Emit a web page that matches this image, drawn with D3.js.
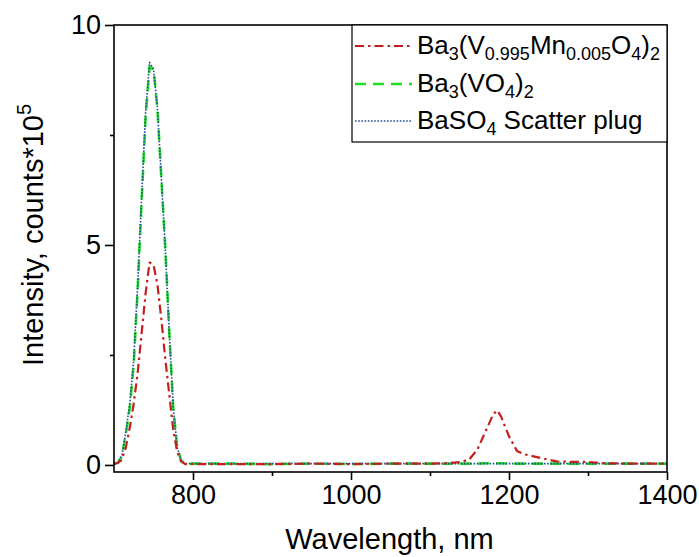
<!DOCTYPE html>
<html>
<head>
<meta charset="utf-8">
<script src="https://cdn.jsdelivr.net/npm/d3@7"></script>
<style>
  html, body { margin: 0; padding: 0; background: #fff; }
  svg { display: block; font-family: "Liberation Sans", Arial, sans-serif; }
</style>
</head>
<body>
<svg id="chart" width="699" height="557"></svg>
<script>
// Emission spectra: wavelength (nm) vs intensity (counts x 1e5)
const wavelength = [700, 705, 710, 715, 720, 725, 730, 735, 740, 745, 750, 755, 760, 765, 770, 775, 780, 785, 790,
  800, 850, 900, 950, 1000, 1050, 1100, 1120, 1140, 1150, 1160, 1170, 1180, 1185, 1190, 1200, 1210, 1220,
  1240, 1260, 1280, 1300, 1320, 1350, 1400];

const mnDoped = [0.02, 0.05, 0.12, 0.4, 0.85, 1.4, 2.1, 3.0, 3.9, 4.6, 4.55, 4.1, 3.3, 2.4, 1.6, 0.8, 0.3, 0.08, 0.02,
  0.02, 0.02, 0.02, 0.03, 0.02, 0.03, 0.03, 0.04, 0.07, 0.13, 0.35, 0.75, 1.15, 1.24, 1.1, 0.65, 0.32, 0.24,
  0.16, 0.08, 0.07, 0.07, 0.04, 0.03, 0.03];

const undoped = [0.02, 0.05, 0.2, 0.7, 1.3, 2.3, 4.0, 6.0, 7.9, 9.05, 9.0, 8.1, 6.5, 4.9, 3.0, 1.3, 0.4, 0.1, 0.03,
  0.03, 0.03, 0.02, 0.03, 0.02, 0.03, 0.03, 0.03, 0.03, 0.03, 0.03, 0.04, 0.04, 0.04, 0.04, 0.03, 0.03, 0.03,
  0.03, 0.03, 0.03, 0.03, 0.03, 0.03, 0.03];

const scatterPlug = [0.02, 0.05, 0.22, 0.75, 1.4, 2.4, 4.1, 6.1, 8.0, 9.15, 9.0, 8.1, 6.5, 4.9, 3.0, 1.3, 0.4, 0.1, 0.03,
  0.03, 0.03, 0.03, 0.03, 0.03, 0.03, 0.03, 0.03, 0.03, 0.03, 0.03, 0.03, 0.03, 0.03, 0.03, 0.03, 0.03, 0.03,
  0.03, 0.03, 0.03, 0.03, 0.03, 0.03, 0.03];

const xMajorTicks = [800, 1000, 1200, 1400];
const xMinorTicks = [900, 1100, 1300];
const yMajorTicks = [0, 5, 10];
const yMinorTicks = [2.5, 7.5];

const seriesNames = ["Ba3(V0.995Mn0.005O4)2", "Ba3(VO4)2", "BaSO4 Scatter plug"];

const svg = d3.select("#chart");
const margin = { top: 25, right: 32, bottom: 85, left: 114 };
const W = 699, H = 557;

const x = d3.scaleLinear().domain([700, 1400]).range([margin.left, W - margin.right]);
const y = d3.scaleLinear().domain([-0.16, 10]).range([H - margin.bottom, margin.top]);

const series = [
  { name: seriesNames[1], values: undoped, color: "#22dd22", dash: "11,7", width: 2.6 },
  { name: seriesNames[2], values: scatterPlug, color: "#1f4e9a", dash: "1.6,1.6", width: 1.6 },
  { name: seriesNames[0], values: mnDoped, color: "#c41f1f", dash: "9,4,2.5,4", width: 2.2 }
];

const line = d3.line()
  .x((d, i) => x(wavelength[i]))
  .y(d => y(d));

series.forEach(s => {
  svg.append("path")
    .datum(s.values)
    .attr("d", line)
    .attr("fill", "none")
    .attr("stroke", s.color)
    .attr("stroke-width", s.width)
    .attr("stroke-dasharray", s.dash)
    .attr("stroke-linejoin", "round");
});

// Frame
const x0 = x.range()[0], x1 = x.range()[1];
const yTop = y.range()[1], yBot = y.range()[0];
svg.append("rect")
  .attr("x", x0).attr("y", yTop)
  .attr("width", x1 - x0).attr("height", yBot - yTop)
  .attr("fill", "none").attr("stroke", "#000").attr("stroke-width", 1.6);

// Axes
const axisFont = 27;
const gx = svg.append("g").attr("transform", `translate(0,${yBot})`)
  .call(d3.axisBottom(x).tickValues(xMajorTicks).tickSize(8).tickPadding(5).tickFormat(d3.format("d")));
const gxm = svg.append("g").attr("transform", `translate(0,${yBot})`)
  .call(d3.axisBottom(x).tickValues(xMinorTicks).tickSize(4).tickFormat(""));
const gy = svg.append("g").attr("transform", `translate(${x0},0)`)
  .call(d3.axisLeft(y).tickValues(yMajorTicks).tickSize(9).tickPadding(4).tickFormat(d3.format("d")));
const gym = svg.append("g").attr("transform", `translate(${x0},0)`)
  .call(d3.axisLeft(y).tickValues(yMinorTicks).tickSize(4).tickFormat(""));

[gx, gxm, gy, gym].forEach(g => {
  g.select(".domain").remove();
  g.selectAll(".tick line").attr("stroke", "#000").attr("stroke-width", 1.6);
  g.selectAll(".tick text")
    .attr("fill", "#000")
    .style("font-size", axisFont + "px")
    .style("font-family", "'Liberation Sans', Arial, sans-serif");
});

// Axis titles
svg.append("text")
  .attr("x", (x0 + x1) / 2 - 1)
  .attr("y", 549)
  .attr("text-anchor", "middle")
  .style("font-size", "29px")
  .text("Wavelength, nm");

const yt = svg.append("text")
  .attr("transform", `translate(43,${(yTop + y(0)) / 2 - 10}) rotate(-90)`)
  .attr("text-anchor", "middle")
  .style("font-size", "29px");
yt.append("tspan").text("Intensity, counts*10");
yt.append("tspan").attr("dy", -12).style("font-size", "20px").text("5");

// Legend
const lg = svg.append("g");
const lgX = 352, lgY = yTop, lgW = x1 - 352, lgH = 117;
lg.append("rect")
  .attr("x", lgX).attr("y", lgY).attr("width", lgW).attr("height", lgH)
  .attr("fill", "#fff").attr("stroke", "#000").attr("stroke-width", 1.2);

const legendFont = 26, subFont = 18;
const legendParts = [
  [["Ba", 0], ["3", 1], ["(V", 0], ["0.995", 1], ["Mn", 0], ["0.005", 1], ["O", 0], ["4", 1], [")", 0], ["2", 1]],
  [["Ba", 0], ["3", 1], ["(VO", 0], ["4", 1], [")", 0], ["2", 1]],
  [["BaSO", 0], ["4", 1], [" Scatter plug", 0]]
];
const legendSeries = [series[2], series[0], series[1]];
const rowY = [46, 84, 121];

legendSeries.forEach((s, i) => {
  lg.append("line")
    .attr("x1", 355).attr("x2", 412)
    .attr("y1", rowY[i]).attr("y2", rowY[i])
    .attr("stroke", s.color)
    .attr("stroke-width", s.width)
    .attr("stroke-dasharray", s.dash);
  const t = lg.append("text")
    .attr("x", 417).attr("y", rowY[i] + 8)
    .style("font-size", legendFont + "px")
    .attr("xml:space", "preserve");
  let sub = false;
  legendParts[i].forEach(([str, isSub]) => {
    const ts = t.append("tspan").text(str);
    if (isSub && !sub) { ts.attr("dy", 6).style("font-size", subFont + "px"); sub = true; }
    else if (isSub && sub) { ts.style("font-size", subFont + "px"); }
    else if (!isSub && sub) { ts.attr("dy", -6); sub = false; }
  });
});
</script>
</body>
</html>
